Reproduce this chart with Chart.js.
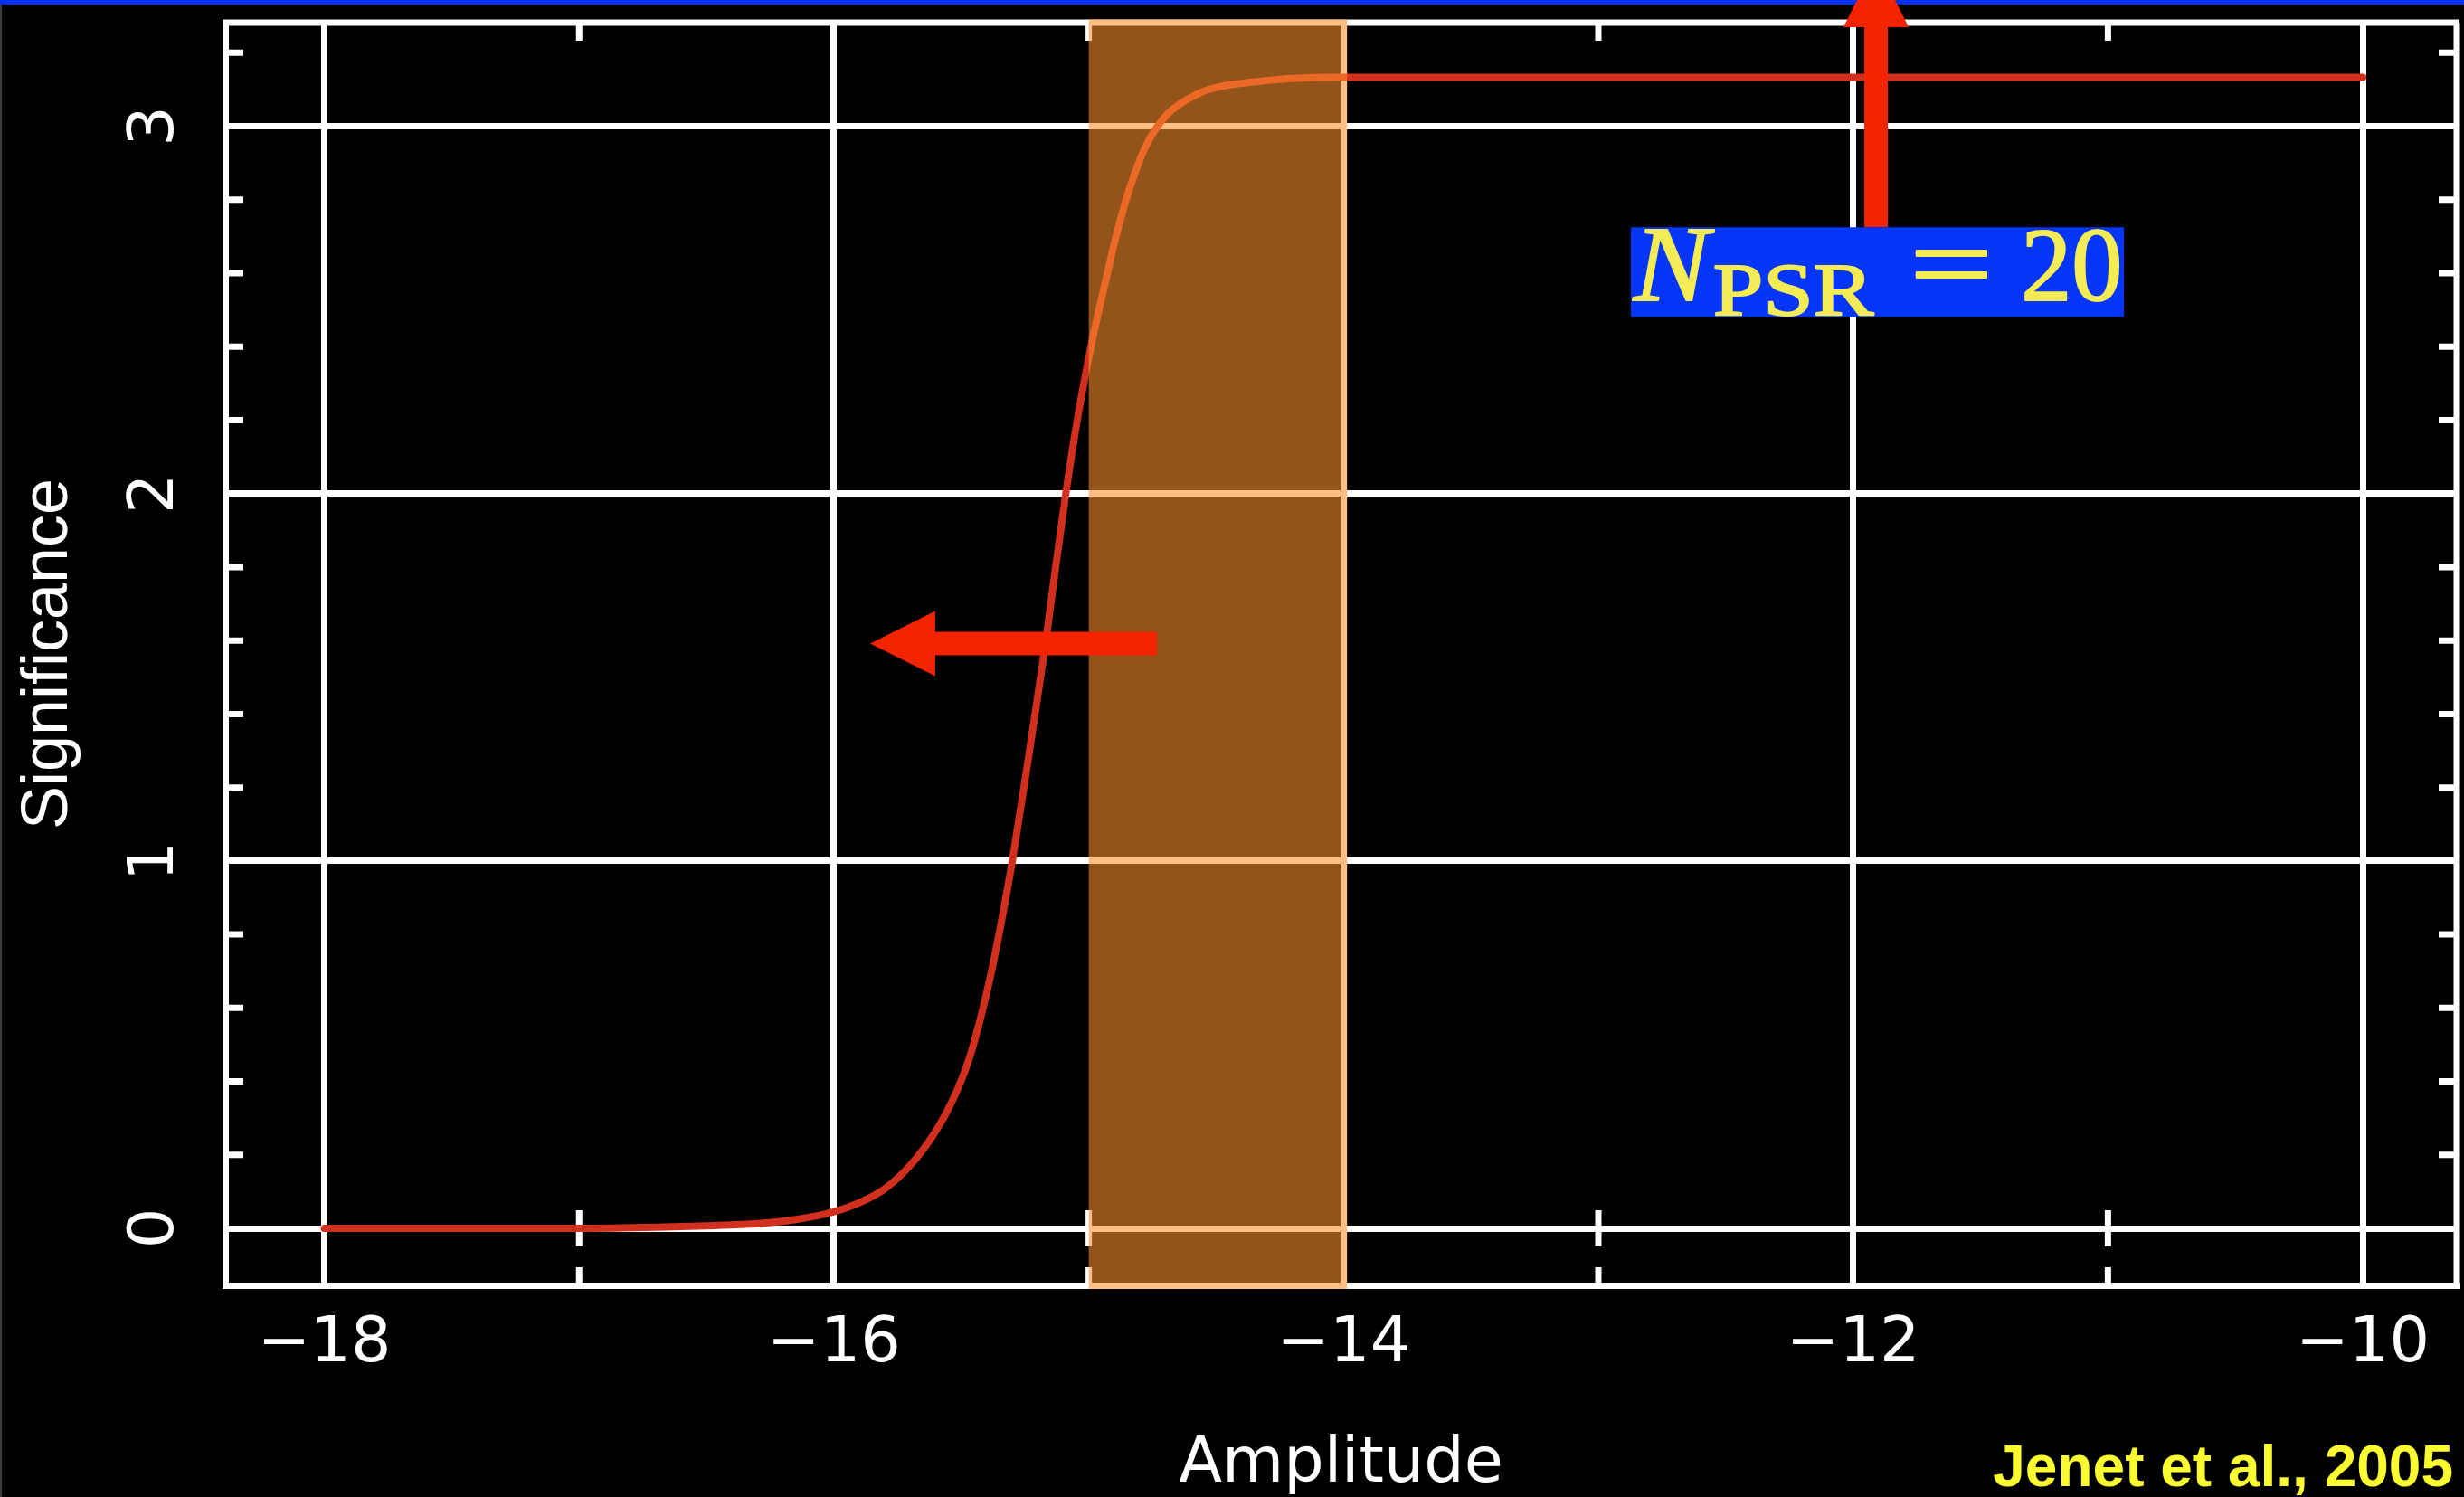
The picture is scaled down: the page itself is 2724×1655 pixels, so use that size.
<!DOCTYPE html>
<html>
<head>
<meta charset="utf-8">
<title>Significance vs Amplitude</title>
<script src="https://cdn.jsdelivr.net/npm/chart.js@4.4.1/dist/chart.umd.min.js"></script>
<style>
  html, body { margin: 0; padding: 0; background: #000; overflow: hidden; }
  canvas { display: block; }
</style>
</head>
<body>
<canvas id="chart" width="2724" height="1655"></canvas>
<script>
// Detection significance versus log10 of the background amplitude
const amplitude = [-18.0, -17.5, -17.0, -16.7, -16.5, -16.3, -16.15, -16.0, -15.9, -15.8,
  -15.7, -15.6, -15.53, -15.47, -15.42, -15.38, -15.34, -15.3, -15.25, -15.2,
  -15.17, -15.13, -15.09, -15.05, -15.0, -14.96, -14.93, -14.9, -14.86, -14.82,
  -14.78, -14.73, -14.68, -14.62, -14.55, -14.47, -14.36, -14.2, -14.0, -12.0, -10.0];
const significance = [0, 0, 0, 0.003, 0.007, 0.013, 0.024, 0.045, 0.07, 0.108,
  0.172, 0.265, 0.355, 0.46, 0.585, 0.705, 0.845, 1.0, 1.22, 1.45,
  1.59, 1.8, 2.0, 2.18, 2.37, 2.5, 2.59, 2.68, 2.785, 2.87,
  2.94, 3.0, 3.04, 3.07, 3.095, 3.11, 3.12, 3.13, 3.133, 3.133, 3.133];

// predicted amplitude range, shaded
const bandRange = [-15, -14];

// axes
const xRange = [-18.389, -9.631];
const yRange = [-0.155, 3.282];
const xTickValues = [-18, -16, -14, -12, -10];
const yTickValues = [0, 1, 2, 3];
const xMinorValues = [-17, -15, -13, -11];
const yMinorValues = [0.2, 0.4, 0.6, 0.8, 1.2, 1.4, 1.6, 1.8, 2.2, 2.4, 2.6, 2.8, 3.2];
const xTitle = 'Amplitude';
const yTitle = 'Significance';

// annotation text
const labelParts = ['N', 'PSR', '=', '20'];
const credit = 'Jenet et al., 2005';

// annotation anchors in data units
const leftArrow = { from: [-14.732, 1.592], to: [-15.858, 1.592] };
const upArrow = { from: [-11.91, 2.725], to: [-11.91, 3.447] };
const labelBox = { x: [-12.872, -10.937], y: [2.725, 2.481] };

const WHITE = '#ffffff';
const ARROW_RED = '#f42300';
const GRID_W = 7;

const fmtTick = v => (v < 0 ? '\u2212' + Math.abs(v) : String(v));

// keep the plot box where the layout puts it, without label overhang padding
const noOverhang = s => {
  s.paddingTop = 0; s.paddingBottom = 0; s.paddingLeft = 0; s.paddingRight = 0;
};

// box edges (top/right) and the small inward ticks
const frameTicks = {
  id: 'frameTicks',
  beforeDraw(chart) {
    const ctx = chart.ctx;
    ctx.save();
    ctx.fillStyle = '#000';
    ctx.fillRect(0, 0, chart.width, chart.height);
    ctx.restore();
  },
  beforeDatasetsDraw(chart) {
    const { ctx, chartArea: a, scales: { x, y } } = chart;
    ctx.save();
    ctx.strokeStyle = WHITE;
    ctx.lineWidth = GRID_W;
    ctx.lineCap = 'butt';
    ctx.beginPath();
    ctx.moveTo(a.left - 3, a.top);
    ctx.lineTo(a.right + 3, a.top);
    ctx.moveTo(a.right, a.top);
    ctx.lineTo(a.right, a.bottom + 3);
    ctx.stroke();

    const L = 20;
    const y0 = y.getPixelForValue(0);
    ctx.beginPath();
    yMinorValues.forEach(v => {
      const py = y.getPixelForValue(v);
      ctx.moveTo(a.left, py); ctx.lineTo(a.left + L, py);
      ctx.moveTo(a.right, py); ctx.lineTo(a.right - L, py);
    });
    xMinorValues.forEach(v => {
      const px = x.getPixelForValue(v);
      ctx.moveTo(px, a.top); ctx.lineTo(px, a.top + L);
      ctx.moveTo(px, a.bottom); ctx.lineTo(px, a.bottom - L);
      ctx.moveTo(px, y0 - L); ctx.lineTo(px, y0 + L);
    });
    ctx.stroke();
    ctx.restore();
  }
};

// translucent amplitude band laid over grid and curve
const shadedBand = {
  id: 'shadedBand',
  afterDatasetsDraw(chart) {
    const { ctx, chartArea: a, scales: { x } } = chart;
    const x0 = x.getPixelForValue(bandRange[0]);
    const x1 = x.getPixelForValue(bandRange[1]);
    ctx.save();
    ctx.fillStyle = 'rgba(253, 145, 45, 0.58)';
    ctx.fillRect(x0, a.top - 4, x1 - x0 + 4, a.bottom - a.top + 8);
    ctx.restore();
  }
};

function drawArrow(ctx, x0, y0, x1, y1, shaftW, headW, headL) {
  const dx = x1 - x0, dy = y1 - y0, len = Math.hypot(dx, dy);
  const ux = dx / len, uy = dy / len, nx = -uy, ny = ux;
  const bx = x1 - ux * headL, by = y1 - uy * headL;
  ctx.beginPath();
  ctx.moveTo(x0 + nx * shaftW / 2, y0 + ny * shaftW / 2);
  ctx.lineTo(bx + nx * shaftW / 2, by + ny * shaftW / 2);
  ctx.lineTo(bx + nx * headW / 2, by + ny * headW / 2);
  ctx.lineTo(x1, y1);
  ctx.lineTo(bx - nx * headW / 2, by - ny * headW / 2);
  ctx.lineTo(bx - nx * shaftW / 2, by - ny * shaftW / 2);
  ctx.lineTo(x0 - nx * shaftW / 2, y0 - ny * shaftW / 2);
  ctx.closePath();
  ctx.fill();
}

// draws text so that its ink spans x0..x1 on the given baseline
function fitText(ctx, text, font, x0, x1, baseline) {
  ctx.font = font;
  const m = ctx.measureText(text);
  const ink = m.actualBoundingBoxLeft + m.actualBoundingBoxRight;
  ctx.save();
  ctx.translate(x0, baseline);
  ctx.scale((x1 - x0) / ink, 1);
  ctx.textAlign = 'left';
  ctx.textBaseline = 'alphabetic';
  ctx.lineJoin = 'round';
  ctx.fillText(text, m.actualBoundingBoxLeft, 0);
  ctx.strokeText(text, m.actualBoundingBoxLeft, 0);
  ctx.restore();
}

const annotations = {
  id: 'annotations',
  afterDraw(chart) {
    const { ctx, scales: { x, y } } = chart;
    const px = v => x.getPixelForValue(v);
    const py = v => y.getPixelForValue(v);
    ctx.save();

    // slide trim
    ctx.fillStyle = '#3c3c3c';
    ctx.fillRect(0, 0, 2, chart.height);
    ctx.fillStyle = '#0530f0';
    ctx.fillRect(0, 0, chart.width, 5);

    // arrows
    ctx.fillStyle = ARROW_RED;
    drawArrow(ctx, px(leftArrow.from[0]), py(leftArrow.from[1]),
      px(leftArrow.to[0]), py(leftArrow.to[1]), 26, 72, 72);
    drawArrow(ctx, px(upArrow.from[0]), py(upArrow.from[1]),
      px(upArrow.to[0]), py(upArrow.to[1]), 26, 72, 72);

    // N_PSR = 20 label
    const bx0 = px(labelBox.x[0]), bx1 = px(labelBox.x[1]);
    const by0 = py(labelBox.y[0]), by1 = py(labelBox.y[1]);
    ctx.fillStyle = '#0635fa';
    ctx.fillRect(bx0, by0, bx1 - bx0, by1 - by0);
    ctx.save();
    ctx.beginPath();
    ctx.rect(bx0, by0, bx1 - bx0, by1 - by0);
    ctx.clip();
    ctx.fillStyle = '#f3ec55';
    ctx.strokeStyle = '#f3ec55';
    ctx.lineWidth = 2;
    fitText(ctx, labelParts[0], 'italic 118px "Liberation Serif"', bx0 + 2, bx0 + 93, by0 + 81);
    fitText(ctx, labelParts[1], '83px "Liberation Serif"', bx0 + 93, bx0 + 269, by0 + 97);
    fitText(ctx, labelParts[2], '118px "Liberation Serif"', bx0 + 315, bx0 + 393, by0 + 81);
    fitText(ctx, labelParts[3], '117px "Liberation Serif"', bx0 + 436, bx0 + 540, by0 + 81);
    ctx.restore();

    // credit line
    ctx.fillStyle = '#fbfb32';
    ctx.font = 'bold 64px "Liberation Sans"';
    ctx.textAlign = 'right';
    ctx.textBaseline = 'alphabetic';
    ctx.fillText(credit, 2712, 1643);
    ctx.restore();
  }
};

new Chart(document.getElementById('chart'), {
  type: 'line',
  data: {
    datasets: [{
      data: amplitude.map((a, i) => ({ x: a, y: significance[i] })),
      borderColor: '#d2301e',
      borderWidth: 8,
      pointRadius: 0,
      fill: false,
      cubicInterpolationMode: 'monotone',
      borderCapStyle: 'round',
      borderJoinStyle: 'round'
    }]
  },
  options: {
    responsive: false,
    animation: false,
    devicePixelRatio: 1,
    events: [],
    layout: { padding: { left: 0, right: 8, top: 25, bottom: 0 } },
    plugins: { legend: { display: false }, tooltip: { enabled: false } },
    scales: {
      x: {
        type: 'linear',
        min: xRange[0],
        max: xRange[1],
        afterBuildTicks: s => { s.ticks = xTickValues.map(v => ({ value: v })); },
        afterFit: s => { s.height = 234; noOverhang(s); },
        grid: { color: WHITE, lineWidth: GRID_W, drawTicks: false },
        border: { display: true, color: WHITE, width: GRID_W },
        ticks: {
          color: WHITE,
          font: { family: 'DejaVu Sans', size: 70, lineHeight: 1 },
          padding: 31,
          maxRotation: 0,
          autoSkip: false,
          callback: v => fmtTick(v)
        },
        title: {
          display: true,
          text: xTitle,
          color: WHITE,
          font: { family: 'DejaVu Sans', size: 70, lineHeight: 1 },
          padding: { top: 0, bottom: 0 }
        }
      },
      y: {
        type: 'linear',
        min: yRange[0],
        max: yRange[1],
        afterBuildTicks: s => { s.ticks = yTickValues.map(v => ({ value: v })); },
        afterFit: s => { s.width = 249; noOverhang(s); },
        grid: { color: WHITE, lineWidth: GRID_W, drawTicks: false },
        border: { display: true, color: WHITE, width: GRID_W },
        ticks: {
          color: WHITE,
          font: { family: 'DejaVu Sans', size: 70, lineHeight: 1 },
          padding: 54,
          minRotation: 90,
          maxRotation: 90,
          crossAlign: 'center',
          autoSkip: false,
          callback: v => fmtTick(v)
        },
        title: {
          display: true,
          text: yTitle,
          color: WHITE,
          font: { family: 'Liberation Sans', size: 72, lineHeight: 1 },
          padding: { top: 18, bottom: 0 }
        }
      }
    }
  },
  plugins: [frameTicks, shadedBand, annotations]
});
</script>
</body>
</html>
